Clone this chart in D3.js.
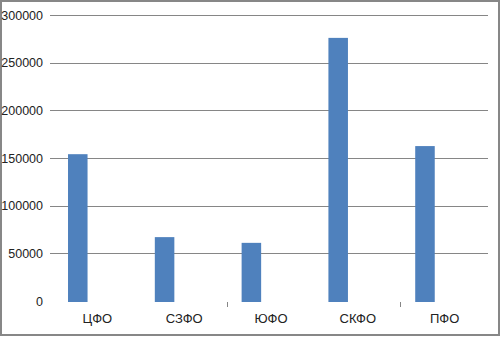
<!DOCTYPE html>
<html>
<head>
<meta charset="utf-8">
<script src="https://cdn.jsdelivr.net/npm/d3@7"></script>
<style>
    body { margin: 0; background: #fff; }
    text { font-family: "Liberation Sans Narrow", "Liberation Sans", Arial, sans-serif; fill: #222; }
</style>
</head>
<body>
<div id="chart"></div>
<script>
// data
let districts = ["ЦФО", "СЗФО", "ЮФО", "СКФО", "ПФО"];
let values = [154000, 67000, 61000, 276000, 162500];
let yTicks = [0, 50000, 100000, 150000, 200000, 250000, 300000];

let width = 502, height = 337;

let svg = d3.select("#chart").append("svg")
    .attr("width", width)
    .attr("height", height);

// outer frame
svg.append("rect")
    .attr("x", 1).attr("y", 1)
    .attr("width", 498).attr("height", 334)
    .attr("fill", "none")
    .attr("stroke", "#878787")
    .attr("stroke-width", 2);

let x = d3.scaleBand().domain(districts).range([53, 487]).padding(0);
let y = d3.scaleLinear().domain([0, 300000]).range([301, 15]);

// gridlines (no line at zero)
svg.append("g").selectAll("line")
    .data(yTicks.filter(d => d > 0))
    .join("line")
    .attr("x1", 50).attr("x2", 488)
    .attr("y1", d => Math.round(y(d)) + 0.5)
    .attr("y2", d => Math.round(y(d)) + 0.5)
    .attr("stroke", "#868686")
    .attr("stroke-width", 1.2);

// y labels
svg.append("g").selectAll("text")
    .data(yTicks)
    .join("text")
    .attr("x", 43)
    .attr("y", d => y(d) + 4.5)
    .attr("text-anchor", "end")
    .style("font-size", "12.5px")
    .text(d => d);

// bars: first series of a two-series cluster, so shifted left of centre
let bw = x.bandwidth();
svg.append("g").selectAll("rect")
    .data(values)
    .join("rect")
    .attr("x", (d, i) => x(districts[i]) + bw * 0.173)
    .attr("width", bw * 0.225)
    .attr("y", d => y(d))
    .attr("height", d => y(0) - y(d) + 1)
    .attr("fill", "#4f81bd");

// the two visible tick marks on the category axis
svg.append("g").selectAll("line")
    .data([districts[2], districts[4]])
    .join("line")
    .attr("x1", d => Math.round(x(d)) + 0.5)
    .attr("x2", d => Math.round(x(d)) + 0.5)
    .attr("y1", 302).attr("y2", 307)
    .attr("stroke", "#868686");

// category labels
svg.append("g").selectAll("text")
    .data(districts)
    .join("text")
    .attr("x", d => x(d) + bw / 2 + 1)
    .attr("y", 323)
    .attr("text-anchor", "middle")
    .style("font-size", "13px")
    .text(d => d);
</script>
</body>
</html>
